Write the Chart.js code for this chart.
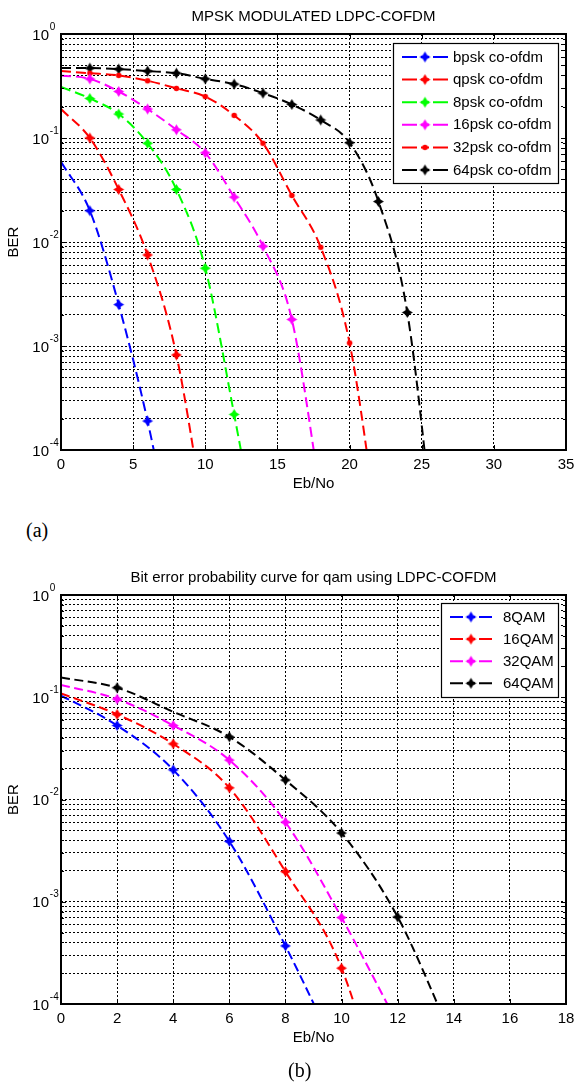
<!DOCTYPE html>
<html>
<head>
<meta charset="utf-8">
<script src="https://cdn.jsdelivr.net/npm/chart.js"></script>
<style>
  body { margin: 0; background: #fff; }
  #page { position: relative; width: 574px; height: 1086px; background: #fff; }
  canvas { position: absolute; left: 0; }
  .cap { position: absolute; font-family: 'Liberation Serif', 'Times New Roman', serif; font-size: 20px; color: #000; }
</style>
</head>
<body>
<div id="page">
  <canvas id="chartA" width="574" height="500" style="top:0"></canvas>
  <div class="cap" style="left:26px; top:519px">(a)</div>
  <canvas id="chartB" width="574" height="500" style="top:560px"></canvas>
  <div class="cap" style="left:288px; top:1059px">(b)</div>
</div>
<script>
// ---- data ----
// (a) MPSK
const ebnoA = [0, 2, 4, 6, 8, 10, 12, 14, 16, 18, 20, 22, 24, 26];
const bpskBer = [0.059, 0.020, 0.0025, 1.9e-4, 8e-6];
const qpskBer = [0.19, 0.10, 0.032, 0.0075, 8.2e-4, 2e-5];
const psk8Ber = [0.31, 0.24, 0.17, 0.089, 0.032, 0.0056, 2.2e-4, 7e-6];
const psk16Ber = [0.40, 0.37, 0.28, 0.19, 0.12, 0.072, 0.027, 0.0091, 0.0018, 3.7e-5];
const psk32Ber = [0.44, 0.42, 0.40, 0.355, 0.30, 0.25, 0.165, 0.089, 0.028, 0.0089, 0.00107, 1.6e-5];
const psk64Ber = [0.47, 0.47, 0.46, 0.44, 0.42, 0.37, 0.33, 0.27, 0.21, 0.149, 0.090, 0.0245, 0.0021, 1e-5];
const xTicksA = [0, 5, 10, 15, 20, 25, 30, 35];

// (b) QAM
const ebnoB = [0, 2, 4, 6, 8, 10, 12, 14];
const qam8Ber = [0.104, 0.053, 0.0195, 0.0039, 3.7e-4, 2.7e-5];
const qam16Ber = [0.109, 0.068, 0.035, 0.013, 0.00197, 2.24e-4, 3.5e-6];
const qam32Ber = [0.132, 0.096, 0.053, 0.0243, 0.0060, 7.0e-4, 6.4e-5];
const qam64Ber = [0.156, 0.124, 0.072, 0.041, 0.0155, 0.0047, 7.1e-4, 4.3e-5];
const xTicksB = [0, 2, 4, 6, 8, 10, 12, 14, 16, 18];

const yExps = [0, -1, -2, -3, -4];

const FONT = "'Liberation Sans', Arial, Helvetica, sans-serif";

// grid values for the log axis: 1..9 x 10^n
const yGrid = [];
for (let e = -4; e < 0; e++) {
  for (let m = 1; m <= 9; m++) yGrid.push(m * Math.pow(10, e));
}
yGrid.push(1);

// marker images (diamond star, or small dot)
function makeMarker(color, kind) {
  const c = document.createElement('canvas');
  c.width = 13; c.height = 13;
  const g = c.getContext('2d');
  g.fillStyle = color;
  g.translate(6.5, 6.5);
  if (kind === 'dot') {
    g.beginPath(); g.arc(0, 0, 2.8, 0, Math.PI * 2); g.fill();
  } else {
    const r = 5.5, w = 2.1;
    g.beginPath();
    g.moveTo(0, -r); g.lineTo(w, -w); g.lineTo(r, 0); g.lineTo(w, w);
    g.lineTo(0, r); g.lineTo(-w, w); g.lineTo(-r, 0); g.lineTo(-w, -w);
    g.closePath(); g.fill();
  }
  return c;
}

function buildDataset(s, xs, dash, hidden) {
  const marker = makeMarker(s.color, s.kind);
  return {
    label: s.label,
    data: s.values.map((v, i) => ({ x: xs[i], y: v })),
    borderColor: s.color,
    backgroundColor: s.color,
    borderWidth: 2,
    borderDash: dash,
    cubicInterpolationMode: 'monotone',
    pointStyle: marker,
    pointRadius: s.values.map((v, i) => (i === 0 || v < 1e-4 || (hidden || []).includes(i)) ? 0 : 5),
    marker: marker
  };
}

// frame, labels, title and legend drawn on top of the chart
const decor = {
  id: 'decor',
  afterDraw(chart, args, o) {
    const ctx = chart.ctx;
    const a = chart.chartArea;
    const xs = chart.scales.x, ys = chart.scales.y;
    ctx.save();
    ctx.setLineDash([]);
    ctx.strokeStyle = '#000';

    // inside tick marks
    ctx.lineWidth = 1;
    ctx.beginPath();
    o.xTicks.forEach(v => {
      const px = Math.round(xs.getPixelForValue(v)) + 0.5;
      ctx.moveTo(px, a.bottom); ctx.lineTo(px, a.bottom - 5);
      ctx.moveTo(px, a.top); ctx.lineTo(px, a.top + 5);
    });
    yGrid.forEach(v => {
      const py = Math.round(ys.getPixelForValue(v)) + 0.5;
      const len = yExps.some(e => Math.abs(Math.log10(v) - e) < 1e-9) ? 5 : 3;
      ctx.moveTo(a.left, py); ctx.lineTo(a.left + len, py);
      ctx.moveTo(a.right, py); ctx.lineTo(a.right - len, py);
    });
    ctx.stroke();

    // box
    ctx.lineWidth = 2;
    ctx.strokeRect(Math.round(a.left), Math.round(a.top), Math.round(a.right - a.left), Math.round(a.bottom - a.top));

    ctx.fillStyle = '#000';
    // x tick labels
    ctx.font = '15px ' + FONT;
    ctx.textAlign = 'center';
    ctx.textBaseline = 'alphabetic';
    o.xTicks.forEach(v => ctx.fillText(String(v), xs.getPixelForValue(v), a.bottom + 18.5));

    // y tick labels 10^n
    yExps.forEach(e => {
      const py = ys.getPixelForValue(Math.pow(10, e));
      ctx.font = '15px ' + FONT;
      ctx.textAlign = 'right';
      ctx.fillText('10', 49, py + 5.5);
      ctx.font = '10px ' + FONT;
      ctx.textAlign = 'left';
      ctx.fillText(String(e), 49.8, py - 4.5);
    });

    // axis titles
    ctx.font = '15px ' + FONT;
    ctx.textAlign = 'center';
    ctx.fillText('Eb/No', (a.left + a.right) / 2, a.bottom + 38);
    ctx.save();
    ctx.translate(13.5, (a.top + a.bottom) / 2);
    ctx.rotate(-Math.PI / 2);
    ctx.textBaseline = 'middle';
    ctx.fillText('BER', 0, 0);
    ctx.restore();

    // title
    ctx.fillText(o.title, (a.left + a.right) / 2, a.top - 13);

    // legend
    const L = o.legend;
    ctx.fillStyle = '#fff';
    ctx.fillRect(L.x, L.y, L.w, L.h);
    ctx.lineWidth = 1.2;
    ctx.strokeStyle = '#000';
    ctx.strokeRect(L.x + 0.5, L.y + 0.5, L.w, L.h);
    chart.data.datasets.forEach((ds, i) => {
      const y = L.row0 + i * L.dy;
      const x0 = L.lx0, x1 = L.lx1, xm = (x0 + x1) / 2;
      ctx.strokeStyle = ds.borderColor;
      ctx.lineWidth = 2;
      ctx.beginPath();
      ctx.moveTo(x0, y); ctx.lineTo(x0 + L.seg, y);
      ctx.moveTo(xm - 4, y); ctx.lineTo(xm + 4, y);
      ctx.moveTo(x1 - L.seg, y); ctx.lineTo(x1, y);
      ctx.stroke();
      ctx.drawImage(ds.marker, xm - 6.5, y - 6.5);
      ctx.fillStyle = '#000';
      ctx.font = '15px ' + FONT;
      ctx.textAlign = 'left';
      ctx.textBaseline = 'middle';
      ctx.fillText(ds.label, L.tx, y + 0.5);
    });
    ctx.restore();
  }
};

function makeChart(id, datasets, xMax, xStep, xTicks, padTop, xHeight, title, legend) {
  return new Chart(document.getElementById(id), {
    type: 'line',
    data: { datasets },
    options: {
      responsive: false,
      animation: false,
      events: [],
      devicePixelRatio: 1,
      layout: { padding: { top: padTop, right: 8, left: 0, bottom: 0 } },
      scales: {
        x: {
          type: 'linear', min: 0, max: xMax,
          ticks: { stepSize: xStep, display: false },
          grid: { color: '#000', lineWidth: 1, drawTicks: false },
          border: { display: false, dash: [2, 2] },
          afterFit: s => { s.height = xHeight; }
        },
        y: {
          type: 'logarithmic', min: 1e-4, max: 1,
          ticks: { display: false, autoSkip: false },
          grid: { color: '#000', lineWidth: 1, drawTicks: false },
          border: { display: false, dash: [2, 2] },
          afterBuildTicks: s => { s.ticks = yGrid.map(v => ({ value: v })); },
          afterFit: s => { s.width = 61; }
        }
      },
      plugins: {
        legend: { display: false },
        tooltip: { enabled: false },
        decor: { title, legend, xTicks }
      }
    },
    plugins: [decor]
  });
}

const seriesA = [
  { label: 'bpsk co-ofdm', values: bpskBer, color: '#0000ff', kind: 'star' },
  { label: 'qpsk co-ofdm', values: qpskBer, color: '#ff0000', kind: 'star' },
  { label: '8psk co-ofdm', values: psk8Ber, color: '#00ff00', kind: 'star' },
  { label: '16psk co-ofdm', values: psk16Ber, color: '#ff00ff', kind: 'star' },
  { label: '32psk co-ofdm', values: psk32Ber, color: '#ff0000', kind: 'dot' },
  { label: '64psk co-ofdm', values: psk64Ber, color: '#000000', kind: 'star' }
];
const seriesB = [
  { label: '8QAM', values: qam8Ber, color: '#0000ff', kind: 'star' },
  { label: '16QAM', values: qam16Ber, color: '#ff0000', kind: 'star' },
  { label: '32QAM', values: qam32Ber, color: '#ff00ff', kind: 'star' },
  { label: '64QAM', values: qam64Ber, color: '#000000', kind: 'star', hidden: [2] }
];

makeChart('chartA',
  seriesA.map(s => buildDataset(s, ebnoA, [10, 5], s.hidden)),
  35, 5, xTicksA, 34, 50,
  'MPSK MODULATED LDPC-COFDM',
  { x: 393, y: 43, w: 165, h: 140, row0: 57, dy: 22.6, lx0: 402, lx1: 448, seg: 15, tx: 453 });

makeChart('chartB',
  seriesB.map(s => buildDataset(s, ebnoB, [9, 4.5], s.hidden)),
  18, 2, xTicksB, 35, 56,
  'Bit error probability curve for qam using LDPC-COFDM',
  { x: 441, y: 43, w: 117, h: 94, row0: 57, dy: 22.1, lx0: 450, lx1: 492, seg: 13, tx: 503 });
</script>
</body>
</html>
